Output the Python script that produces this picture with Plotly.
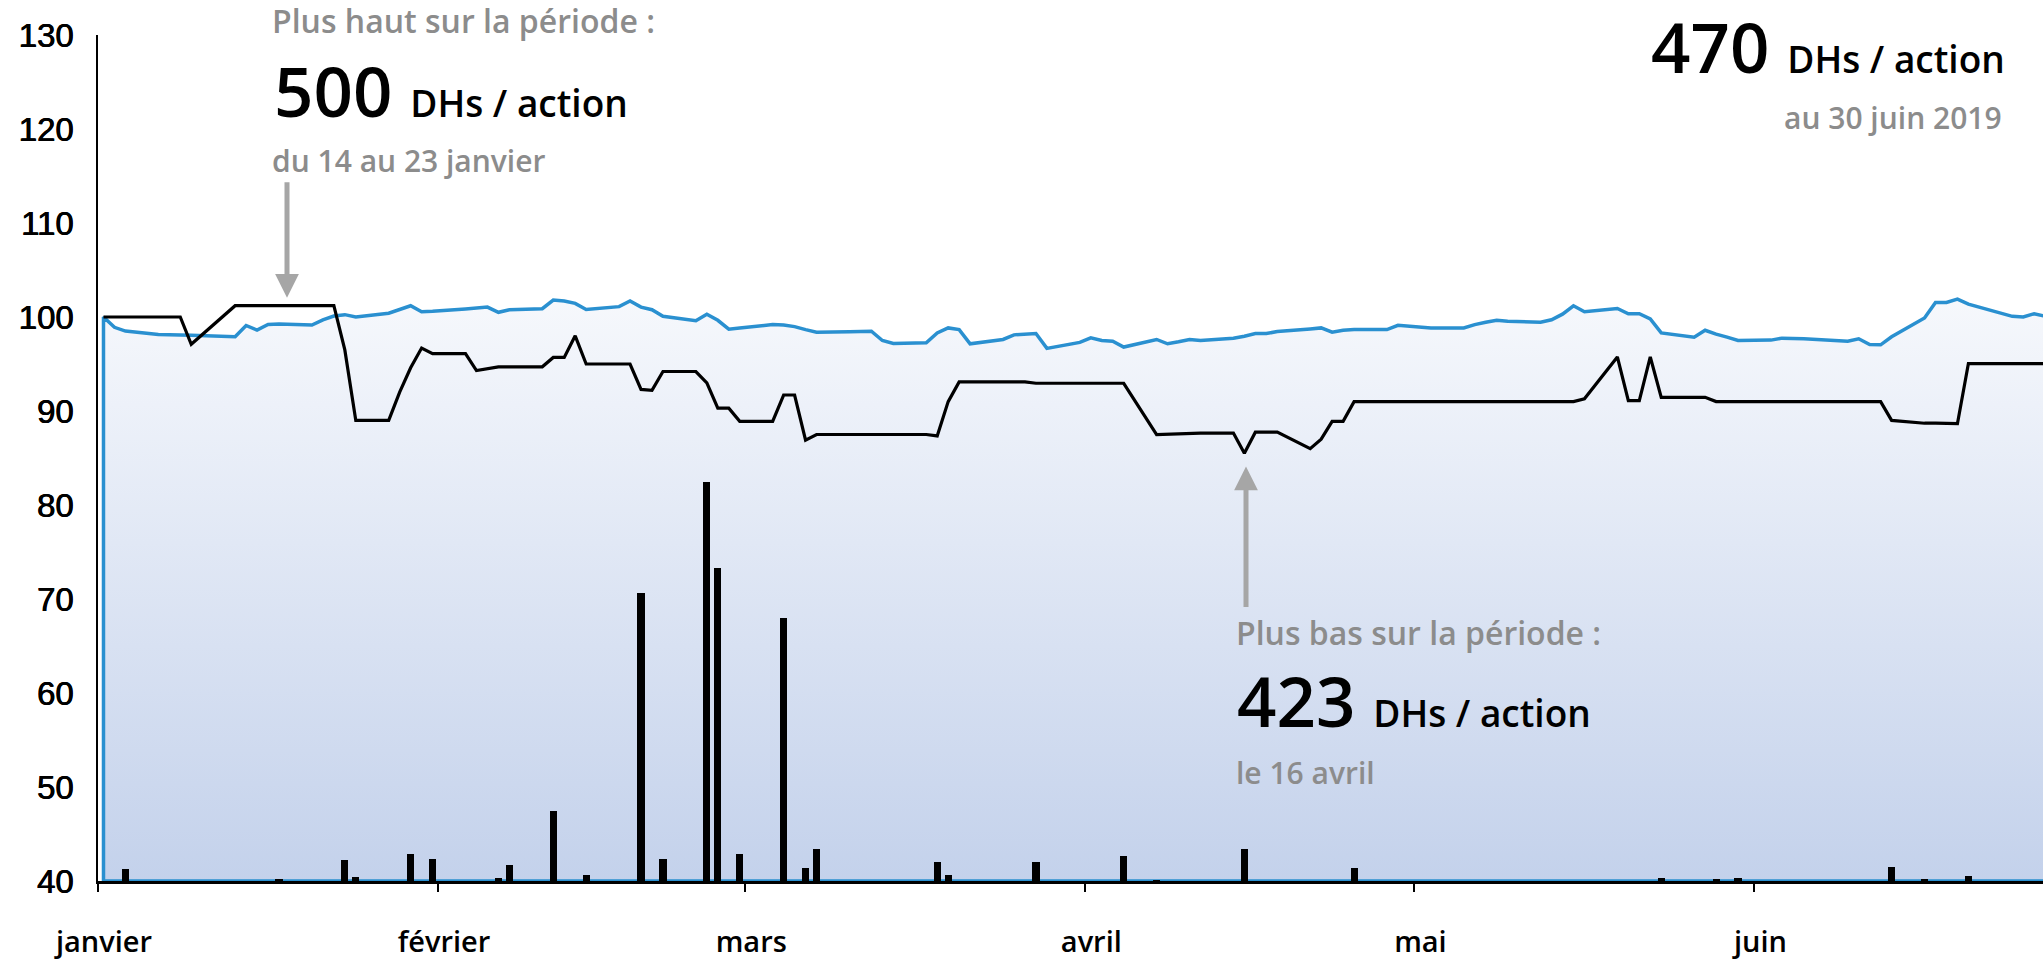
import plotly.graph_objects as go
import pandas as pd

# ---------------- data ----------------
dates = [
    "2019-01-02", "2019-01-03", "2019-01-04", "2019-01-07", "2019-01-08", "2019-01-09", "2019-01-10",
    "2019-01-14", "2019-01-15", "2019-01-16", "2019-01-17", "2019-01-18", "2019-01-21", "2019-01-22",
    "2019-01-23", "2019-01-24", "2019-01-25", "2019-01-28", "2019-01-29", "2019-01-30", "2019-01-31",
    "2019-02-01", "2019-02-04", "2019-02-05", "2019-02-06", "2019-02-07", "2019-02-08", "2019-02-11",
    "2019-02-12", "2019-02-13", "2019-02-14", "2019-02-15", "2019-02-18", "2019-02-19", "2019-02-20",
    "2019-02-21", "2019-02-22", "2019-02-25", "2019-02-26", "2019-02-27", "2019-02-28",
    "2019-03-01", "2019-03-04", "2019-03-05", "2019-03-06", "2019-03-07", "2019-03-08", "2019-03-11",
    "2019-03-12", "2019-03-13", "2019-03-14", "2019-03-15", "2019-03-18", "2019-03-19", "2019-03-20",
    "2019-03-21", "2019-03-22", "2019-03-25", "2019-03-26", "2019-03-27", "2019-03-28", "2019-03-29",
    "2019-04-01", "2019-04-02", "2019-04-03", "2019-04-04", "2019-04-05", "2019-04-08", "2019-04-09",
    "2019-04-10", "2019-04-11", "2019-04-12", "2019-04-15", "2019-04-16", "2019-04-17", "2019-04-18",
    "2019-04-19", "2019-04-22", "2019-04-23", "2019-04-24", "2019-04-25", "2019-04-26", "2019-04-29",
    "2019-04-30",
    "2019-05-02", "2019-05-03", "2019-05-06", "2019-05-07", "2019-05-08", "2019-05-09", "2019-05-10",
    "2019-05-13", "2019-05-14", "2019-05-15", "2019-05-16", "2019-05-17", "2019-05-20", "2019-05-21",
    "2019-05-22", "2019-05-23", "2019-05-24", "2019-05-27", "2019-05-28", "2019-05-29", "2019-05-30",
    "2019-05-31",
    "2019-06-03", "2019-06-04", "2019-06-06", "2019-06-07", "2019-06-10", "2019-06-11", "2019-06-12",
    "2019-06-13", "2019-06-14", "2019-06-17", "2019-06-18", "2019-06-19", "2019-06-20", "2019-06-21",
    "2019-06-24", "2019-06-25", "2019-06-26", "2019-06-27", "2019-06-28",
]

# market index (base 100)
masi = [
    100.0, 98.9, 98.5, 98.15, 98.1, 98.1, 98.05,
    97.9, 99.1, 98.6, 99.2, 99.25, 99.15, 99.7,
    100.1, 100.25, 100.0, 100.4, 100.8, 101.2, 100.55,
    100.6, 100.85, 100.95, 101.05, 100.5, 100.77, 100.88,
    101.8, 101.7, 101.45, 100.8, 101.1, 101.7, 101.05,
    100.77, 100.07, 99.6, 100.3, 99.65, 98.7,
    98.84, 99.19, 99.16, 98.98, 98.66, 98.38, 98.42,
    98.49, 98.49, 97.5, 97.19, 97.26, 98.31, 98.84,
    98.66, 97.15, 97.61, 98.1, 98.21, 98.24, 96.66,
    97.3, 97.79, 97.5, 97.43, 96.8, 97.61, 97.15,
    97.36, 97.61, 97.5, 97.75, 97.96, 98.24, 98.24,
    98.45, 98.73, 98.84, 98.38, 98.59, 98.66, 98.66,
    99.12,
    98.95, 98.84, 98.84, 99.19, 99.44, 99.65, 99.54,
    99.44, 99.7, 100.3, 101.19, 100.56, 100.91, 100.35,
    100.35, 99.79, 98.31, 97.86, 98.59, 98.17, 97.86,
    97.5,
    97.54, 97.75, 97.68, 97.64, 97.43, 97.68, 97.08,
    97.04, 97.89, 99.89, 101.55, 101.55, 101.9, 101.37,
    100.42, 100.07, 100.0, 100.35, 100.07,
]

# stock price (base 100)
stock = [
    100.0, 100.0, 100.0, 100.0, 100.0, 100.0, 97.1,
    101.2, 101.2, 101.2, 101.2, 101.2, 101.2, 101.2,
    101.2, 96.5, 89.0, 89.0, 92.0, 94.6, 96.7,
    96.1, 96.1, 94.3, 94.5, 94.7, 94.7, 94.7,
    95.7, 95.7, 98.0, 95.0, 95.0, 95.0, 92.3,
    92.2, 94.2, 94.2, 93.0, 90.3, 90.3,
    88.9, 88.9, 91.7, 91.7, 86.9, 87.5, 87.5,
    87.5, 87.5, 87.5, 87.5, 87.5, 87.35, 91.0,
    93.1, 93.1, 93.1, 93.1, 93.1, 92.95, 92.95,
    92.95, 92.95, 92.95, 92.95, 92.95, 87.5, 87.55,
    87.6, 87.6, 87.65, 87.65, 85.5, 87.75, 87.75,
    87.75, 86.0, 87.0, 88.9, 88.9, 91.0, 91.0,
    91.0,
    91.0, 91.0, 91.0, 91.0, 91.0, 91.0, 91.0,
    91.0, 91.0, 91.0, 91.0, 91.3, 95.75, 91.1,
    91.1, 95.75, 91.45, 91.45, 91.45, 91.0, 91.0,
    91.0,
    91.0, 91.0, 91.0, 91.0, 91.0, 91.0, 91.0,
    91.0, 89.0, 88.7, 88.7, 88.65, 88.65, 95.05,
    95.05, 95.05, 95.05, 95.05, 95.05,
]

# traded volumes (read on the same scale, bars rise from the axis floor)
vol_dates = [
    "2019-01-04", "2019-01-18", "2019-01-24", "2019-01-25", "2019-01-30", "2019-02-01", "2019-02-07",
    "2019-02-08", "2019-02-12", "2019-02-15", "2019-02-20", "2019-02-22", "2019-02-26", "2019-02-27",
    "2019-03-01", "2019-03-05", "2019-03-07", "2019-03-08", "2019-03-19", "2019-03-20", "2019-03-28",
    "2019-04-05", "2019-04-08", "2019-04-16", "2019-04-26", "2019-05-24", "2019-05-29", "2019-05-31",
    "2019-06-14", "2019-06-17", "2019-06-21",
]
volumes = [
    41.26, 40.2, 42.25, 40.45, 42.87, 42.35, 40.27,
    41.74, 47.4, 40.66, 70.6, 42.35, 82.5, 73.35,
    42.87, 67.94, 41.4, 43.4, 41.97, 40.6, 41.97,
    42.68, 40.15, 43.44, 41.4, 40.3, 40.2, 40.3,
    41.5, 40.2, 40.5,
]

month_starts = ["2019-01-01", "2019-02-01", "2019-03-01", "2019-04-01", "2019-05-01", "2019-06-01"]
month_labels = ["janvier", "février", "mars", "avril", "mai", "juin"]
y_ticks = [40, 50, 60, 70, 80, 90, 100, 110, 120, 130]

# ---------------- figure ----------------
Y_MIN, Y_MAX = 40, 130
W, H = 2043, 960
ML, MR, MT, MB = 98, 0, 35, 72
PW, PH = W - ML - MR, H - MT - MB

BLUE = "#2a90d0"
GREY = "#8c8c8c"
ARROW = "#a6a6a6"
TXT = "Open Sans, DejaVu Sans, sans-serif"
TICK = "Liberation Sans Narrow, Arial Narrow, Liberation Sans, sans-serif"

d = pd.to_datetime(dates)
x_area = [d[0]] + list(d) + [d[-1], d[0]]
y_area = [Y_MIN] + masi + [Y_MIN, Y_MIN]

fig = go.Figure()
# index area (base subplot)
fig.add_trace(go.Scatter(
    x=x_area, y=y_area, mode="lines", fill="toself",
    fillgradient=dict(type="vertical", colorscale=[[0, "#c3d1eb"], [1, "#f6f8fc"]],
                      start=Y_MIN, stop=102),
    line=dict(color=BLUE, width=3.5), hoverinfo="skip", showlegend=False,
))
# volumes and stock on an overlaid twin axis so they draw above the area
fig.add_trace(go.Bar(
    x=pd.to_datetime(vol_dates), y=volumes, width=0.65 * 86400000, yaxis="y2",
    marker=dict(color="black", line=dict(width=0)), showlegend=False,
))
fig.add_trace(go.Scatter(
    x=d, y=stock, mode="lines", line=dict(color="black", width=3.2), yaxis="y2",
    showlegend=False,
))


def px(x):
    return (x - ML) / PW


def py(y):
    return (H - MB - y) / PH


def note(text, x, y_top, xanchor="left"):
    fig.add_annotation(
        text=text, x=px(x), y=py(y_top), xref="paper", yref="paper",
        xanchor=xanchor, yanchor="top", showarrow=False, align=xanchor,
        borderpad=0, borderwidth=0,
        font=dict(family=TXT, weight=600),
    )


def big(num):
    return (f"<span style='font-size:69px;color:black'>{num} </span>"
            f"<span style='font-size:37px;color:black'>DHs / action</span>")


def grey(t, size):
    return f"<span style='font-size:{size}px;color:{GREY}'>{t}</span>"


# top-left: highest
note(grey("Plus haut sur la période :", 32), 272, -1)
note(big("500"), 274, 43)
note(grey("du 14 au 23 janvier", 30), 272, 141)
# top-right: last
note(big("470"), 2005, -1, xanchor="right")
note(grey("au 30 juin 2019", 30), 2002, 98, xanchor="right")
# lowest
note(grey("Plus bas sur la période :", 32), 1236, 616)
note(big("423"), 1237, 658)
note(grey("le 16 avril", 30), 1236, 758)

# arrows
for tip_x, tip_y, tail_dy in [(287, 300, -117), (1246, 470, 142)]:
    fig.add_annotation(
        x=px(tip_x), y=py(tip_y), xref="paper", yref="paper", text="",
        showarrow=True, ax=0, ay=tail_dy, arrowhead=2, arrowsize=0.95,
        arrowwidth=5, arrowcolor=ARROW, standoff=0,
    )

fig.update_layout(
    width=W, height=H, margin=dict(l=ML, r=MR, t=MT, b=MB, pad=0),
    paper_bgcolor="white", plot_bgcolor="white", showlegend=False,
    bargap=0, hovermode=False,
    yaxis2=dict(overlaying="y", range=[Y_MIN, Y_MAX], visible=False, showgrid=False,
                zeroline=False),
)
fig.update_xaxes(
    type="date",
    range=[pd.Timestamp("2019-01-01 12:00"), pd.Timestamp("2019-06-27 19:12")],
    tickvals=[pd.Timestamp(m) + pd.Timedelta(hours=12) for m in month_starts],
    ticktext=month_labels,
    ticks="outside", ticklen=8, tickwidth=2, tickcolor="black",
    showline=True, linecolor="black", linewidth=2.5, showgrid=False, zeroline=False,
    tickfont=dict(family=TXT, size=29, color="black", weight=600),
    ticklabelstandoff=25, ticklabelshift=6,
)
fig.update_layout(yaxis=dict(
    range=[Y_MIN, Y_MAX], tickvals=y_ticks,
    showline=True, linecolor="black", linewidth=2, showgrid=False, zeroline=False,
    ticks="", tickfont=dict(family=TICK, size=33, color="black",
                            shadow="0.8px 0px 0px #000, 0.4px 0px 0px #000"),
    ticklabelstandoff=16,
))

fig.write_html(
    "out.html",
    config={"displayModeBar": False},
    post_script="document.body.style.margin='0';document.body.style.overflow='hidden';",
)
